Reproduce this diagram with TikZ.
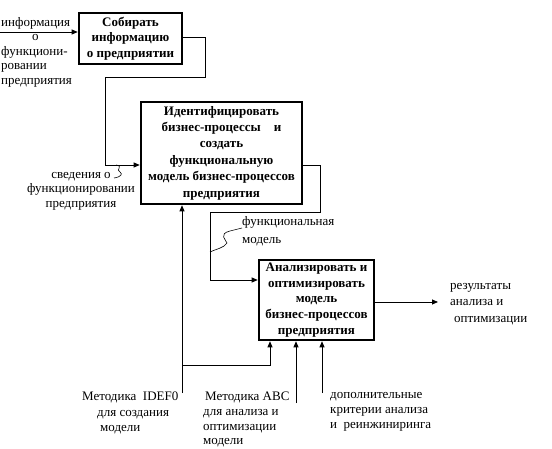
\documentclass[tikz,border=0pt]{standalone}
\usepackage{fontspec}
\setmainfont{Liberation Serif}
\usetikzlibrary{arrows.meta,positioning,calc}
\tikzset{
  act/.style  = {draw, line width=2.6pt, align=center, inner sep=1pt,
                 font=\fontsize{13}{15.5}\selectfont\bfseries},
  flow/.style = {-{Triangle[length=6pt,width=5pt]}, line width=0.8pt},
  tie/.style  = {line width=0.6pt},
  lbl/.style  = {align=left, inner sep=0pt, font=\fontsize{13}{16}\selectfont},
}

\begin{document}
\begin{tikzpicture}[x=1pt,y=-1pt]
  \useasboundingbox (0,0) rectangle (552,449);
  % activities
  \node[act, minimum width=103pt, minimum height=51pt] (collect) at (130.5,38.5)
    {Собирать\\информацию\\о предприятии};
  \node[act, minimum width=161pt, minimum height=102pt,
        font=\fontsize{13}{16.4}\selectfont\bfseries] (ident) at (221.5,153)
    {Идентифицировать\\бизнес-процессы\quad и\\создать\\функциональную\\модель бизнес-процессов\\предприятия};
  \node[act, minimum width=115pt, minimum height=80pt,
        font=\fontsize{13}{15.8}\selectfont\bfseries] (analyse) at (316.5,300)
    {Анализировать и\\оптимизировать\\модель\\бизнес-процессов\\предприятия};

  % labels
  \node[lbl, anchor=north west, font=\fontsize{13}{14.5}\selectfont] (infoin) at (1,17)
    {информация\\\hspace*{31pt}о\\функциони-\\ровании\\предприятия};
  \node[lbl, anchor=north, align=center, font=\fontsize{13}{14.5}\selectfont] (svd) at (81,172)
    {сведения о\\функционировании\\предприятия};
  \node[lbl, anchor=north west, font=\fontsize{13}{18}\selectfont] (fmod) at (242,216)
    {функциональная\\модель};
  \node[lbl, anchor=north west, font=\fontsize{13}{16.5}\selectfont] (res) at (450,283)
    {результаты\\анализа и\\\hspace*{4pt}оптимизации};
  \node[lbl, anchor=north west, font=\fontsize{13}{15.2}\selectfont] (idef) at (82,392)
    {Методика\ \ IDEF0\\\hspace*{15pt}для создания\\\hspace*{18pt}модели};
  \node[lbl, anchor=north west, font=\fontsize{13}{14.6}\selectfont] (abc) at (203,392)
    {\hspace*{2pt}Методика ABC\\для анализа и\\оптимизации\\модели};
  \node[lbl, anchor=north west, font=\fontsize{13}{15.2}\selectfont] (crit) at (330,392)
    {дополнительные\\критерии анализа\\и\ \ реинжиниринга};

  % bends
  \coordinate (in1) at (0,32);
  \coordinate (r1) at (205,37);
  \coordinate (r2) at (105,77);
  \coordinate (in2) at (105,165);
  \coordinate (r3) at (320,165);
  \coordinate (r4) at (210,212);
  \coordinate (in3) at (210,280);
  \coordinate (out3) at (438,302);
  \coordinate (m1) at (182,393);
  \coordinate (m1b) at (270,365);
  \coordinate (m2) at (296,403);
  \coordinate (m3) at (322,393);

  % arrows
  \draw[flow] (in1) -- (in1 -| collect.west);
  \draw[flow] (r1 -| collect.east) -- (r1) |- (r2) -- (in2) -- (in2 -| ident.west);
  \draw[flow] (r3 -| ident.east) -- (r3) |- (r4) -- (in3) -- (in3 -| analyse.west);
  \draw[flow] (out3 -| analyse.east) -- (out3);
  \draw[flow] (m1) -- (m1 |- ident.south);
  \draw[flow] (m1 |- m1b) -- (m1b) -- (m1b |- analyse.south);
  \draw[flow] (m2) -- (m2 |- analyse.south);
  \draw[flow] (m3) -- (m3 |- analyse.south);

  % squiggles to labels
  \coordinate (t1) at (116,165);
  \draw[tie] (t1) .. controls (124,166) and (115,170) .. (120,172)
             .. controls (123,174) and (121,177) .. (114,178);
  \coordinate (t2) at (210,252);
  \draw[tie] (fmod.west |- 0,228) -- (230,231) .. controls (218,234) and (226,240) .. (227,243)
             .. controls (224,248) and (216,249) .. (t2);
\end{tikzpicture}
\end{document}
